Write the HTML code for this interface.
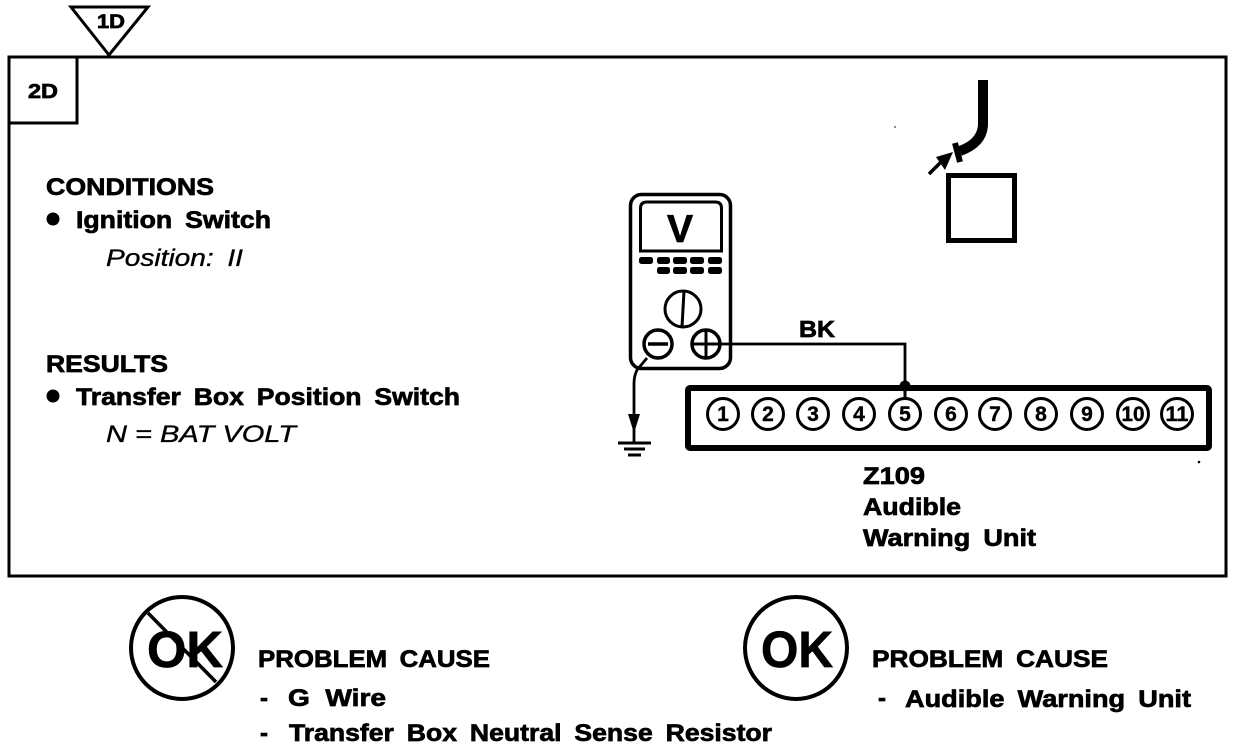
<!DOCTYPE html>
<html><head><meta charset="utf-8"><style>
html,body{margin:0;padding:0;background:#fff;width:1248px;height:750px;overflow:hidden}
svg{display:block}
text{font-family:"Liberation Sans",sans-serif;font-weight:bold;fill:#000;stroke:#000;stroke-width:.7}
.i{font-style:italic;font-weight:normal;stroke-width:.35}
.w{word-spacing:5px}
.n{font-size:21px;text-anchor:middle;stroke-width:.4}
circle.p{fill:#fff;stroke:#000;stroke-width:3}
</style></head><body>
<svg width="1248" height="750" viewBox="0 0 1248 750" xmlns="http://www.w3.org/2000/svg">
<rect x="9" y="57" width="1217" height="519" fill="none" stroke="#000" stroke-width="3"/>
<path d="M9 123H77V57" fill="none" stroke="#000" stroke-width="3"/>
<path d="M71 7H148L109 55Z" fill="#fff" stroke="#000" stroke-width="3"/>
<text x="97" y="28" font-size="19" textLength="28" lengthAdjust="spacingAndGlyphs">1D</text>
<text x="28" y="98" font-size="20" textLength="30" lengthAdjust="spacingAndGlyphs">2D</text>

<text x="46" y="195" font-size="24" textLength="168" lengthAdjust="spacingAndGlyphs">CONDITIONS</text>
<circle cx="53" cy="219" r="6.5"/>
<text class="w" x="76" y="228" font-size="24" textLength="195" lengthAdjust="spacingAndGlyphs">Ignition Switch</text>
<text class="i w" x="106" y="266" font-size="24" textLength="137" lengthAdjust="spacingAndGlyphs">Position: II</text>
<text x="46" y="372" font-size="24" textLength="122" lengthAdjust="spacingAndGlyphs">RESULTS</text>
<circle cx="53" cy="396" r="6.5"/>
<text class="w" x="76" y="405" font-size="24" textLength="384" lengthAdjust="spacingAndGlyphs">Transfer Box Position Switch</text>
<text class="i" x="106" y="442" font-size="24" textLength="190" lengthAdjust="spacingAndGlyphs">N = BAT VOLT</text>

<!-- sensor -->
<path d="M983 80V125Q982 143 960 151" fill="none" stroke="#000" stroke-width="10"/>
<path d="M955 143L960 162" stroke="#000" stroke-width="6" fill="none"/>
<path d="M929 174L942 161" stroke="#000" stroke-width="3.5"/>
<path d="M936 157L953 152L945 170Z"/>
<rect x="948.5" y="175.5" width="66" height="65" fill="none" stroke="#000" stroke-width="5"/>
<circle cx="895" cy="127" r=".8"/>

<!-- meter -->
<rect x="630.5" y="194.5" width="100" height="174" rx="11" fill="#fff" stroke="#000" stroke-width="3.5"/>
<path d="M640.5 251V208Q640.5 202 647 202H715Q721.5 202 721.5 208V251Z" fill="none" stroke="#000" stroke-width="3"/>
<text x="680" y="242" font-size="39" text-anchor="middle" stroke-width="1">V</text>
<g fill="#000">
<rect x="639" y="257" width="14" height="7" rx="2.5"/><rect x="657" y="257" width="13" height="7" rx="2.5"/><rect x="673" y="257" width="14" height="7" rx="2.5"/><rect x="690" y="257" width="14" height="7" rx="2.5"/><rect x="708" y="257" width="14" height="7" rx="2.5"/>
<rect x="657" y="267" width="13" height="7" rx="2.5"/><rect x="673" y="267" width="14" height="7" rx="2.5"/><rect x="690" y="267" width="14" height="7" rx="2.5"/><rect x="708" y="267" width="14" height="7" rx="2.5"/>
</g>
<circle cx="683" cy="309" r="18" fill="none" stroke="#000" stroke-width="3"/>
<path d="M684 291L682 327" stroke="#000" stroke-width="3"/>
<circle cx="658" cy="344" r="14" fill="#fff" stroke="#000" stroke-width="3.5"/>
<path d="M648 344H668" stroke="#000" stroke-width="3.5"/>
<circle cx="706" cy="344" r="14" fill="#fff" stroke="#000" stroke-width="3.5"/>
<path d="M692 344H720M706 330V358" stroke="#000" stroke-width="3"/>
<path d="M720 344H905V387" fill="none" stroke="#000" stroke-width="2.8"/>
<text x="799" y="337" font-size="23" textLength="36" lengthAdjust="spacingAndGlyphs">BK</text>

<!-- ground -->
<path d="M647 358L637 370Q634 376 634 384V442" fill="none" stroke="#000" stroke-width="2.8"/>
<path d="M628 414H640L634 433Z"/>
<path d="M618 443H651" stroke="#000" stroke-width="3"/>
<path d="M624 449H645" stroke="#000" stroke-width="3"/>
<path d="M628 455H641" stroke="#000" stroke-width="3"/>

<!-- connector -->
<rect x="688" y="388" width="521" height="60" rx="2" fill="#fff" stroke="#000" stroke-width="6"/>
<circle cx="905" cy="386" r="5.5"/>
<path d="M905 386V400" stroke="#000" stroke-width="3"/>
<g>
<circle class="p" cx="723" cy="414" r="15.5"/><text class="n" x="723" y="421">1</text>
<circle class="p" cx="768" cy="414" r="15.5"/><text class="n" x="768" y="421">2</text>
<circle class="p" cx="813" cy="414" r="15.5"/><text class="n" x="813" y="421">3</text>
<circle class="p" cx="859" cy="414" r="15.5"/><text class="n" x="859" y="421">4</text>
<circle class="p" cx="905" cy="414" r="15.5"/><text class="n" x="905" y="421">5</text>
<circle class="p" cx="951" cy="414" r="15.5"/><text class="n" x="951" y="421">6</text>
<circle class="p" cx="995" cy="414" r="15.5"/><text class="n" x="995" y="421">7</text>
<circle class="p" cx="1041" cy="414" r="15.5"/><text class="n" x="1041" y="421">8</text>
<circle class="p" cx="1087" cy="414" r="15.5"/><text class="n" x="1087" y="421">9</text>
<circle class="p" cx="1133" cy="414" r="15.5"/><text class="n" x="1133" y="421" textLength="23" lengthAdjust="spacingAndGlyphs">10</text>
<circle class="p" cx="1177" cy="414" r="15.5"/><text class="n" x="1177" y="421" textLength="23" lengthAdjust="spacingAndGlyphs">11</text>
</g>
<circle cx="1199" cy="462" r="1.3"/>
<text x="863" y="484" font-size="24" textLength="62" lengthAdjust="spacingAndGlyphs">Z109</text>
<text x="863" y="515" font-size="24" textLength="98" lengthAdjust="spacingAndGlyphs">Audible</text>
<text class="w" x="863" y="546" font-size="24" textLength="173" lengthAdjust="spacingAndGlyphs">Warning Unit</text>

<!-- OK crossed -->
<circle cx="182" cy="648" r="51" fill="none" stroke="#000" stroke-width="4"/>
<path d="M148 613L216 682" stroke="#000" stroke-width="3.5"/>
<text x="147" y="667" font-size="51" textLength="76" lengthAdjust="spacingAndGlyphs" stroke-width="2">OK</text>
<text class="w" x="258" y="667" font-size="24" textLength="232" lengthAdjust="spacingAndGlyphs">PROBLEM CAUSE</text>
<text x="260" y="706" font-size="24">-</text>
<text x="288" y="706" font-size="24" textLength="98" lengthAdjust="spacingAndGlyphs">G&#160;&#160;Wire</text>
<text x="260" y="741" font-size="24">-</text>
<text class="w" x="289" y="741" font-size="24" textLength="483" lengthAdjust="spacingAndGlyphs">Transfer Box Neutral Sense Resistor</text>

<!-- OK -->
<circle cx="796" cy="648" r="51" fill="none" stroke="#000" stroke-width="4"/>
<text x="761" y="667" font-size="51" textLength="72" lengthAdjust="spacingAndGlyphs" stroke-width="2">OK</text>
<text class="w" x="872" y="667" font-size="24" textLength="236" lengthAdjust="spacingAndGlyphs">PROBLEM CAUSE</text>
<text x="878" y="706" font-size="24">-</text>
<text class="w" x="905" y="707" font-size="24" textLength="286" lengthAdjust="spacingAndGlyphs">Audible Warning Unit</text>
</svg>
</body></html>
